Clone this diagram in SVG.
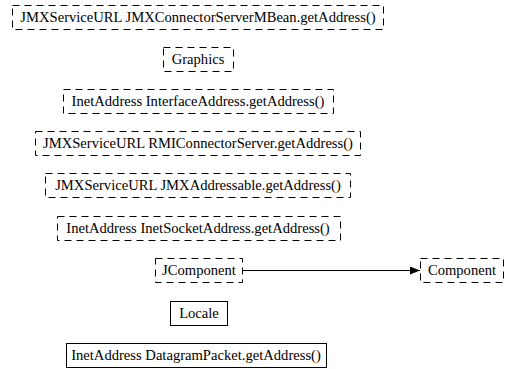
<svg xmlns="http://www.w3.org/2000/svg" width="506" height="369" viewBox="0 0 506 369">
<style>
.d{fill:#fff;stroke:#000;stroke-width:1;stroke-dasharray:7,5}
.s{fill:#fff;stroke:#000;stroke-width:1}
.t{font-family:'Liberation Serif','Times New Roman',serif;font-size:14.6px;text-anchor:middle;fill:#000}
.e{stroke:#000;stroke-width:1;fill:none}
</style>
<defs>
<marker id="a" markerWidth="10" markerHeight="8" refX="10" refY="4" orient="auto" markerUnits="userSpaceOnUse">
<path d="M0,0L10,4L0,8z" fill="#000"/>
</marker>
</defs>
<g id="n1"><rect class="d" x="12.5" y="5.5" width="371" height="24"/><text class="t" x="198" y="22">JMXServiceURL JMXConnectorServerMBean.getAddress()</text></g>
<g id="n2"><rect class="d" x="163.5" y="47.5" width="70" height="24"/><text class="t" x="198" y="64">Graphics</text></g>
<g id="n3"><rect class="d" x="63.5" y="89.5" width="270" height="24"/><text class="t" x="198" y="106">InetAddress InterfaceAddress.getAddress()</text></g>
<g id="n4"><rect class="d" x="35.5" y="131.5" width="325" height="24"/><text class="t" x="198" y="148">JMXServiceURL RMIConnectorServer.getAddress()</text></g>
<g id="n5"><rect class="d" x="45.5" y="173.5" width="305" height="24"/><text class="t" x="198" y="190">JMXServiceURL JMXAddressable.getAddress()</text></g>
<g id="n6"><rect class="d" x="57.5" y="216.5" width="283" height="24"/><text class="t" x="198" y="233">InetAddress InetSocketAddress.getAddress()</text></g>
<g id="n7"><rect class="d" x="155.5" y="258.5" width="87" height="24"/><text class="t" x="199" y="275">JComponent</text></g>
<g id="n8"><rect class="d" x="420.5" y="258.5" width="83" height="24"/><text class="t" x="462" y="275">Component</text></g>
<g id="n9"><rect class="s" x="170.5" y="301.5" width="57" height="24"/><text class="t" x="199" y="318">Locale</text></g>
<g id="n10"><rect class="s" x="66.5" y="343.5" width="260" height="24"/><text class="t" x="196" y="360">InetAddress DatagramPacket.getAddress()</text></g>
<g id="edges"><path class="e" d="M243,270.5H420" marker-end="url(#a)"/></g>
</svg>
